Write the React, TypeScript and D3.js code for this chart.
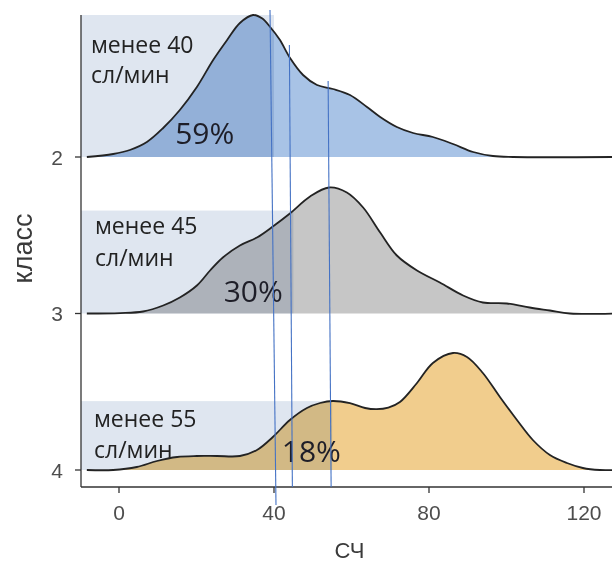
import React from "react";
import * as d3 from "d3";

// ---- data ----
const classes = ["2", "3", "4"];
const thresholds = [40, 45, 55];
const shares = ["59%", "30%", "18%"];
const xTicks = [0, 40, 80, 120];

// density curves: [СЧ, density ×1000]
const density2: [number, number][] = [
  [-8.3, 0], [-1.5, 0.75], [2.8, 1.75], [7.2, 3.75], [11.4, 7.25], [15.7, 11.75],
  [20.1, 17.5], [24.3, 24.25], [27.9, 29.25], [31.2, 33.5], [34.6, 35.5], [37.0, 34.6],
  [39.0, 32.5], [41.5, 29.3], [44.1, 24.8], [47.5, 20.5], [51.1, 18], [55.2, 17],
  [59.6, 15.5], [64, 12.5], [67.4, 10], [71.7, 7.5], [75.9, 6], [81, 5], [86.2, 3.25],
  [91.4, 1.25], [96.5, 0.25], [101.7, 0], [127.5, 0],
];
const density3: [number, number][] = [
  [-8.3, 0], [0.3, 0.1], [6.2, 0.5], [11.4, 2], [15.7, 4], [20.1, 7], [23.5, 10.75],
  [26.8, 14], [31.2, 17], [35.6, 19], [39.7, 21.75], [44.1, 25], [49.3, 29.25],
  [54.2, 31.5], [58.8, 30.25], [63, 26.5], [67.4, 20.25], [71.7, 14.5], [76.9, 10.75],
  [82.8, 7.75], [88.8, 4.5], [93.9, 2.75], [100.1, 2.5], [106, 1.5], [111.2, 0.75],
  [116.4, 0], [127.5, 0],
];
const density4: [number, number][] = [
  [-8.3, 0], [-1.5, 0], [4.6, 0.75], [9.8, 2.25], [15, 3.25], [20.1, 3.5], [25.3, 3.5],
  [31.2, 3.5], [35.6, 5], [39.7, 8.25], [44.1, 12.5], [48.5, 15.5], [51.9, 16.75],
  [55.2, 17.25], [59.6, 16.7], [63.5, 15.5], [66.5, 15.2], [69.5, 15.6], [72.5, 17], [76.9, 21.75],
  [81, 26.75], [86.2, 29.25], [89.8, 28.25], [93.9, 24.25], [98.3, 18.25],
  [102.7, 12.5], [106.8, 7.5], [111.2, 3.75], [115.6, 1.75], [119.7, 0.5],
  [124.1, 0], [127.5, 0],
];
const densities = [density2, density3, density4];

// ---- style / layout ----
const fills = ["#a8c3e6", "#c6c6c6", "#f1cd8d"];
const boxFill = "#dfe6f0";
const annoFont = "'Open Sans', 'Noto Sans', sans-serif";
const axisFont = "'Liberation Sans', Arial, sans-serif";
// per-row annotation offsets (px relative to box top / baseline)
const labelOffsets = [
  { tx: 10, t1: 38, t2: 68, px: 14.5, pb: -13 },
  { tx: 14, t1: 23, t2: 55, px: 27, pb: -12 },
  { tx: 13, t1: 26, t2: 57, px: 42, pb: -8 },
];

function interp(d: [number, number][], x: number) {
  for (let i = 1; i < d.length; i++) {
    if (d[i][0] >= x) {
      const [x0, y0] = d[i - 1];
      const [x1, y1] = d[i];
      return y0 + ((y1 - y0) * (x - x0)) / (x1 - x0);
    }
  }
  return 0;
}

export default function App() {
  const W = 612, H = 564;
  const axisX = 81, axisY = 487, top = 15;
  const x = d3.scaleLinear().domain([0, 120]).range([119, 584]);
  const y = d3.scalePoint<string>().domain(classes).range([157, 470]);
  const h = d3.scaleLinear().domain([0, 35.5]).range([0, 142]);
  const curve = d3.curveCatmullRom.alpha(0.5);

  return (
    <svg width={W} height={H} style={{ position: "absolute", left: 0, top: 0, background: "#fff" }}>
      {densities.map((d, i) => {
        const base = y(classes[i])!;
        const area = d3
          .area<[number, number]>()
          .x((p) => x(p[0]))
          .y0(base)
          .y1((p) => Math.min(base, base - h(p[1])))
          .curve(curve);
        const line = d3
          .line<[number, number]>()
          .x((p) => x(p[0]))
          .y((p) => base - h(p[1]))
          .curve(curve);
        const t = thresholds[i];
        const maxLeft = Math.max(
          ...d.filter((p) => p[0] <= t).map((p) => p[1]),
          interp(d, t)
        );
        const boxTop = base - h(maxLeft);
        const o = labelOffsets[i];
        return (
          <g key={i}>
            <path d={area(d)!} fill={fills[i]} />
            <rect
              x={axisX}
              y={boxTop}
              width={x(t) - axisX}
              height={base - boxTop}
              fill={boxFill}
              style={{ mixBlendMode: "multiply" }}
            />
            <path d={line(d)!} fill="none" stroke="#232323" strokeWidth={1.8} />
            <text x={axisX + o.tx} y={boxTop + o.t1} fontFamily={annoFont} fontSize={23} fill="#222">
              {"менее " + t}
            </text>
            <text x={axisX + o.tx} y={boxTop + o.t2} fontFamily={annoFont} fontSize={23} fill="#222">
              сл/мин
            </text>
            <text x={x(o.px)} y={base + o.pb} fontFamily={annoFont} fontSize={30} fill="#1e1e28">
              {shares[i]}
            </text>
          </g>
        );
      })}

      {/* axes */}
      <line x1={axisX} x2={axisX} y1={top} y2={axisY} stroke="#333" strokeWidth={1.3} />
      <line x1={axisX} x2={W} y1={axisY} y2={axisY} stroke="#333" strokeWidth={1.3} />
      {classes.map((c) => (
        <g key={c}>
          <line x1={axisX - 6} x2={axisX} y1={y(c)} y2={y(c)} stroke="#333" strokeWidth={1.3} />
          <text x={axisX - 18} y={y(c)! + 7.5} textAnchor="end" fontFamily={axisFont} fontSize={21} fill="#4d4d4d">
            {c}
          </text>
        </g>
      ))}
      {xTicks.map((v) => (
        <g key={v}>
          <line x1={x(v)} x2={x(v)} y1={axisY} y2={axisY + 6} stroke="#333" strokeWidth={1.3} />
          <text x={x(v)} y={axisY + 33} textAnchor="middle" fontFamily={axisFont} fontSize={21} fill="#4d4d4d">
            {v}
          </text>
        </g>
      ))}
      <text x={349.5} y={558} textAnchor="middle" fontFamily={axisFont} fontSize={22} fill="#3a3a3a">
        СЧ
      </text>
      <text
        transform={`translate(32, 248.5) rotate(-90)`}
        textAnchor="middle"
        fontFamily={axisFont}
        fontSize={27}
        fill="#3a3a3a"
      >
        класс
      </text>

      {/* hand-drawn threshold lines */}
      {thresholds.map((t, i) => (
        <line
          key={t}
          x1={x(t) - 4}
          y1={i === 0 ? 10 : i === 1 ? 45 : 81}
          x2={x(t) + (i === 0 ? 2 : -1)}
          y2={i === 0 ? 505 : axisY}
          stroke="#4472c4"
          strokeWidth={1.1}
        />
      ))}
    </svg>
  );
}
